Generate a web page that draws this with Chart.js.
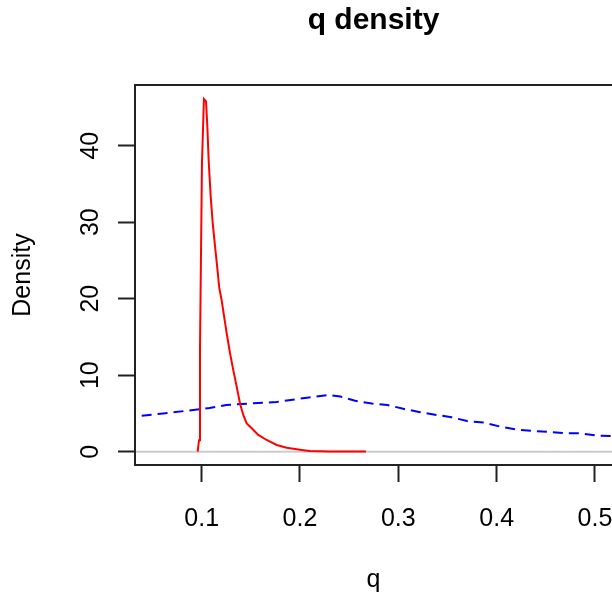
<!DOCTYPE html>
<html>
<head>
<meta charset="utf-8">
<script src="https://cdn.jsdelivr.net/npm/chart.js@4"></script>
<style>
  body { margin: 0; background: #fff; }
</style>
</head>
<body>
<canvas id="myChart" width="612" height="597"></canvas>
<script>
// values

// red curve (q, density)
const redQ = [0.0959, 0.0973, 0.0983, 0.1003, 0.1023, 0.1044, 0.1057, 0.1071, 0.1092, 0.1112, 0.1138, 0.1159, 0.1179, 0.1203, 0.1254, 0.1288, 0.1321, 0.1356, 0.1390, 0.1423, 0.1458, 0.1509, 0.1576, 0.1661, 0.1763, 0.1865, 0.2017, 0.2100, 0.2300, 0.2671];
const redD = [0, 1.5, 13.5, 37.7, 46.1, 45.8, 42.7, 38.1, 33.3, 29.9, 26.6, 24.0, 21.4, 19.8, 15.5, 12.9, 10.7, 8.5, 6.3, 4.8, 3.7, 3.06, 2.2, 1.53, 0.88, 0.52, 0.22, 0.08, 0.04, 0.02];

// blue dashed curve
const blueQ = [0.039, 0.061, 0.0915, 0.108, 0.125, 0.149, 0.176, 0.207, 0.229, 0.241, 0.256, 0.273, 0.289, 0.305, 0.321, 0.339, 0.354, 0.370, 0.387, 0.403, 0.420, 0.437, 0.453, 0.470, 0.485, 0.502, 0.517, 0.53];
const blueD = [4.7, 5.0, 5.45, 5.7, 6.1, 6.3, 6.5, 7.05, 7.4, 7.2, 6.65, 6.3, 6.1, 5.6, 5.2, 4.8, 4.5, 4.0, 3.8, 3.3, 2.9, 2.7, 2.6, 2.4, 2.4, 2.1, 2.05, 1.95];

// grey line at zero
const baseQ = [0, 0.6];
const baseD = [0, 0];

const xTicks = [0.1, 0.2, 0.3, 0.4, 0.5];
const xTickLabels = ['0.1', '0.2', '0.3', '0.4', '0.5'];
const yTicks = [0, 10, 20, 30, 40];
const yTickLabels = ['0', '10', '20', '30', '40'];

const xMin = 0.0322, xMax = 0.5173;
const yMin = -1.74, yMax = 47.93;

function toPoints(xs, ys) {
  return xs.map((x, i) => ({x: x, y: ys[i]}));
}

const font = 'Liberation Sans';
Chart.defaults.color = '#000';
Chart.defaults.font.family = font;

// draws the box round the plot (right side runs off the page)
const boxPlugin = {
  id: 'box',
  afterDraw(chart) {
    const ca = chart.chartArea;
    const ctx = chart.ctx;
    ctx.save();
    ctx.strokeStyle = '#222';
    ctx.lineWidth = 2;
    ctx.strokeRect(ca.left, ca.top, ca.right - ca.left + 10, ca.bottom - ca.top);
    ctx.restore();
  }
};

const myChart = document.getElementById('myChart');

let densityChart = new Chart(myChart, {
  type: 'line',
  data: {
    datasets: [
      {
        data: toPoints(redQ, redD),
        borderColor: '#ff0000',
        borderWidth: 2,
        pointRadius: 0,
        tension: 0,
        order: 1
      },
      {
        data: toPoints(blueQ, blueD),
        borderColor: '#0000ff',
        borderWidth: 2,
        borderDash: [10, 6],
        pointRadius: 0,
        tension: 0,
        order: 2
      },
      {
        data: toPoints(baseQ, baseD),
        borderColor: '#cccccc',
        borderWidth: 2,
        pointRadius: 0,
        order: 3
      }
    ]
  },
  options: {
    responsive: false,
    animation: false,
    layout: { padding: 0 },
    plugins: {
      legend: { display: false },
      tooltip: { enabled: false },
      title: {
        display: true,
        text: 'q density',
        fullSize: false,
        color: '#000',
        font: { family: font, size: 30, weight: 'bold', lineHeight: 1.2 },
        padding: { top: 3, bottom: 46 }
      }
    },
    scales: {
      x: {
        type: 'linear',
        min: xMin,
        max: xMax,
        afterBuildTicks: scale => { scale.ticks = xTicks.map(v => ({value: v})); },
        afterFit: scale => { scale.height = 132; scale.paddingLeft = 0; scale.paddingRight = 0; },
        border: { display: false },
        grid: {
          drawOnChartArea: false,
          drawTicks: true,
          tickLength: 17,
          tickWidth: 2,
          tickColor: '#222'
        },
        ticks: {
          padding: 22,
          maxRotation: 0,
          autoSkip: false,
          font: { family: font, size: 25 },
          callback: (value, index) => xTickLabels[index]
        },
        title: {
          display: true,
          text: 'q',
          font: { family: font, size: 25 },
          padding: { top: 0, bottom: 2 }
        }
      },
      y: {
        type: 'linear',
        min: yMin,
        max: yMax,
        afterBuildTicks: scale => { scale.ticks = yTicks.map(v => ({value: v})); },
        afterFit: scale => { scale.width = 135; scale.paddingTop = 0; scale.paddingBottom = 0; },
        border: { display: false },
        grid: {
          drawOnChartArea: false,
          drawTicks: true,
          tickLength: 17,
          tickWidth: 2,
          tickColor: '#222'
        },
        ticks: {
          padding: 13,
          minRotation: 90,
          maxRotation: 90,
          crossAlign: 'center',
          autoSkip: false,
          font: { family: font, size: 25 },
          callback: (value, index) => yTickLabels[index]
        },
        title: {
          display: true,
          text: 'Density',
          font: { family: font, size: 25 },
          padding: { top: 8, bottom: 0 }
        }
      }
    }
  },
  plugins: [boxPlugin]
});
</script>
</body>
</html>
